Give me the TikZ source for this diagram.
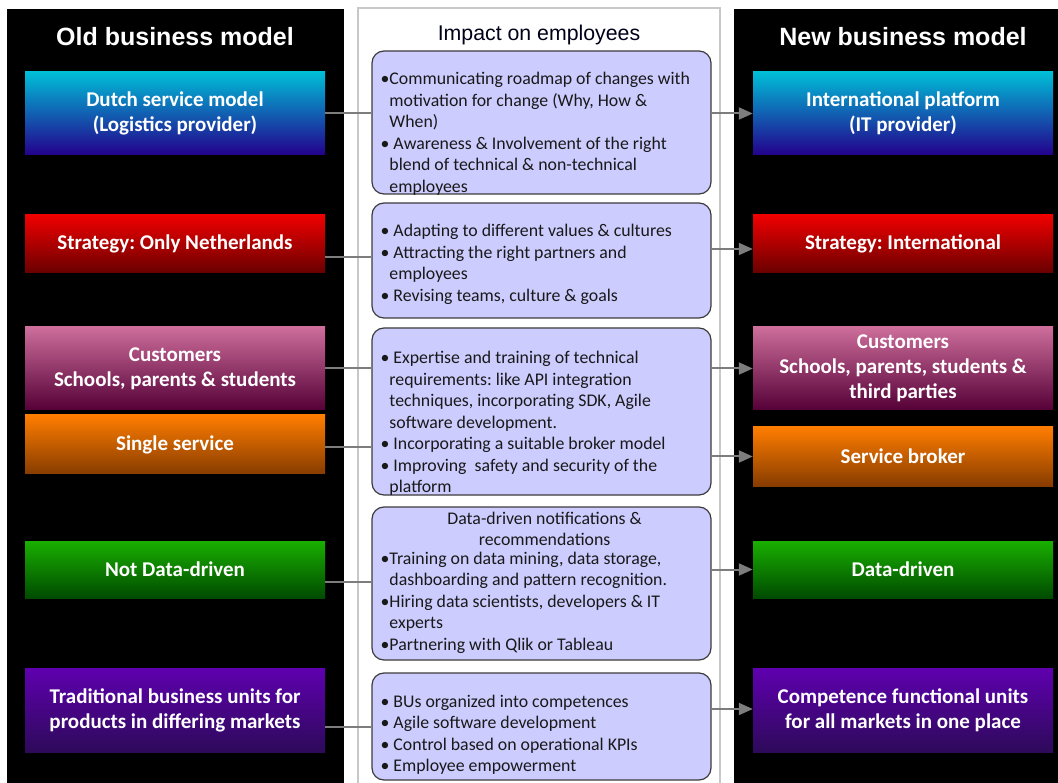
\documentclass[tikz,border=0pt]{standalone}
\usepackage{fontspec}
\setmainfont{Carlito}
\newfontfamily\headfont{Liberation Sans}
\usepackage{xcolor}
\usetikzlibrary{arrows.meta, positioning}
\definecolor{BlueTop}{RGB}{0,190,215}
\definecolor{BlueBot}{RGB}{35,0,140}
\definecolor{RedTop}{RGB}{240,0,0}
\definecolor{RedBot}{RGB}{105,0,0}
\definecolor{PinkTop}{RGB}{205,110,155}
\definecolor{PinkBot}{RGB}{85,0,55}
\definecolor{OrangeTop}{RGB}{255,125,0}
\definecolor{OrangeBot}{RGB}{135,60,0}
\definecolor{GreenTop}{RGB}{25,175,0}
\definecolor{GreenBot}{RGB}{0,75,0}
\definecolor{PurpleTop}{RGB}{95,0,175}
\definecolor{PurpleBot}{RGB}{45,10,90}
\definecolor{ImpFill}{RGB}{204,204,255}
\definecolor{ImpLine}{RGB}{60,60,60}
\definecolor{LinkGray}{RGB}{125,125,125}
\definecolor{PanelLine}{RGB}{200,200,200}
\newcommand{\impbul}{\textbullet}
\newcommand{\impind}{\hphantom{\textbullet}}
\frenchspacing

\begin{document}
\begin{tikzpicture}[x=1pt, y=-1pt,
    modelbox/.style={minimum width=300pt, inner sep=0pt, text=white, align=center,
      font=\fontsize{21}{25}\selectfont\bfseries},
    impbox/.style={draw=ImpLine, line width=1.2pt, fill=ImpFill, rounded corners=12pt,
      minimum width=339pt, inner sep=0pt},
    imptext/.style={anchor=west, inner sep=0pt, align=left, text=black!90,
      font=\fontsize{17.8}{21.5}\selectfont},
    coltitle/.style={text=white, font=\headfont\fontsize{25}{30}\selectfont\bfseries},
    link/.style={draw=LinkGray, line width=2pt},
    linkarrow/.style={link, -{Triangle[length=14pt, width=12pt]}}]
  \useasboundingbox (0,0) rectangle (1058,783);
  \fill[black] (7,9) rectangle (344,783);
  \filldraw[fill=white, draw=PanelLine, line width=1.5pt] (358,8) rectangle (720,790);
  \fill[black] (734,9) rectangle (1058,783);

  \node[coltitle] (oldtitle) at (175,37) {Old business model};
  \node[coltitle] (newtitle) at (903,37) {New business model};
  \node[font=\headfont\fontsize{21.3}{25}\selectfont, text=black!90!blue] (imptitle) at (539,35) {Impact on employees};

  \foreach \n/\ya/\yb/\col/\txt in {
      o1/72/155/Blue/{Dutch service model\\(Logistics provider)},
      o2/215/273/Red/{Strategy: Only Netherlands},
      o3/327/410/Pink/{Customers\\Schools, parents \& students},
      o4/415/474/Orange/{Single service},
      o5/541/598/Green/{Not Data-driven},
      o6/668/752/Purple/{Traditional business units for\\products in differing markets}}{
    \node[modelbox, top color=\col Top, bottom color=\col Bot,
      minimum height={(\yb-\ya)*1pt}] (\n) at (175,{(\ya+\yb)/2}) {\txt};
  }
  \foreach \n/\ya/\yb/\col/\txt in {
      n1/72/155/Blue/{International platform\\(IT provider)},
      n2/215/273/Red/{Strategy: International},
      n3/327/410/Pink/{Customers\\Schools, parents, students \&\\third parties},
      n4/427/486/Orange/{Service broker},
      n5/541/598/Green/{Data-driven},
      n6/668/752/Purple/{Competence functional units\\for all markets in one place}}{
    \node[modelbox, top color=\col Top, bottom color=\col Bot,
      minimum height={(\yb-\ya)*1pt}] (\n) at (903,{(\ya+\yb)/2}) {\txt};
  }

  \node[impbox, minimum height=143pt] (imp1) at (541.5,122.5) {};
  \node[impbox, minimum height=115pt] (imp2) at (541.5,260.5) {};
  \node[impbox, minimum height=167pt] (imp3) at (541.5,411.5) {};
  \node[impbox, minimum height=153pt] (imp4) at (541.5,583.5) {};
  \node[impbox, minimum height=107pt] (imp5) at (541.5,726.5) {};

  \node[imptext] (txt1) at ([xshift=9pt, yshift=-11.5pt]imp1.west) {\impbul Communicating roadmap of changes with\\
    \impind motivation for change (Why, How \&\\
    \impind When)\\
    \impbul\ Awareness \& Involvement of the right\\
    \impind blend of technical \& non-technical\\
    \impind employees};
  \node[imptext] (txt2) at ([xshift=9pt, yshift=-4pt]imp2.west) {\impbul\ Adapting to different values \& cultures\\
    \impbul\ Attracting the right partners and\\
    \impind employees\\
    \impbul\ Revising teams, culture \& goals};
  \node[imptext] (txt3) at ([xshift=9pt, yshift=-12pt]imp3.west) {\impbul\ Expertise and training of technical\\
    \impind requirements: like API integration\\
    \impind techniques, incorporating SDK, Agile\\
    \impind software development.\\
    \impbul\ Incorporating a suitable broker model\\
    \impbul\ Improving\ \ safety and security of the\\
    \impind platform};
  \node[imptext] (txt4) at ([xshift=9pt, yshift=1pt]imp4.west) {\makebox[328pt]{Data-driven notifications \&}\\
    \makebox[328pt]{recommendations}\\[-3pt]
    \impbul Training on data mining, data storage,\\
    \impind dashboarding and pattern recognition.\\
    \impbul Hiring data scientists, developers \& IT\\
    \impind experts\\
    \impbul Partnering with Qlik or Tableau};
  \node[imptext] (txt5) at ([xshift=9pt, yshift=-8.5pt]imp5.west) {\impbul\ BUs organized into competences\\
    \impbul\ Agile software development\\
    \impbul\ Control based on operational KPIs\\
    \impbul\ Employee empowerment};

  \foreach \i/\m/\da/\db in {1/1/0/0, 2/2/-13/-5, 3/3/0/0, 4/3/-2.5/0, 5/4/-12.5/0, 6/5/-17/1}{
    \draw[link] ([yshift=\da pt]o\i.east) -- ([yshift=\da pt]o\i.east -| imp\m.west);
    \draw[linkarrow] ([yshift=\db pt]n\i.west -| imp\m.east) -- ([yshift=\db pt]n\i.west);
  }
\end{tikzpicture}
\end{document}
